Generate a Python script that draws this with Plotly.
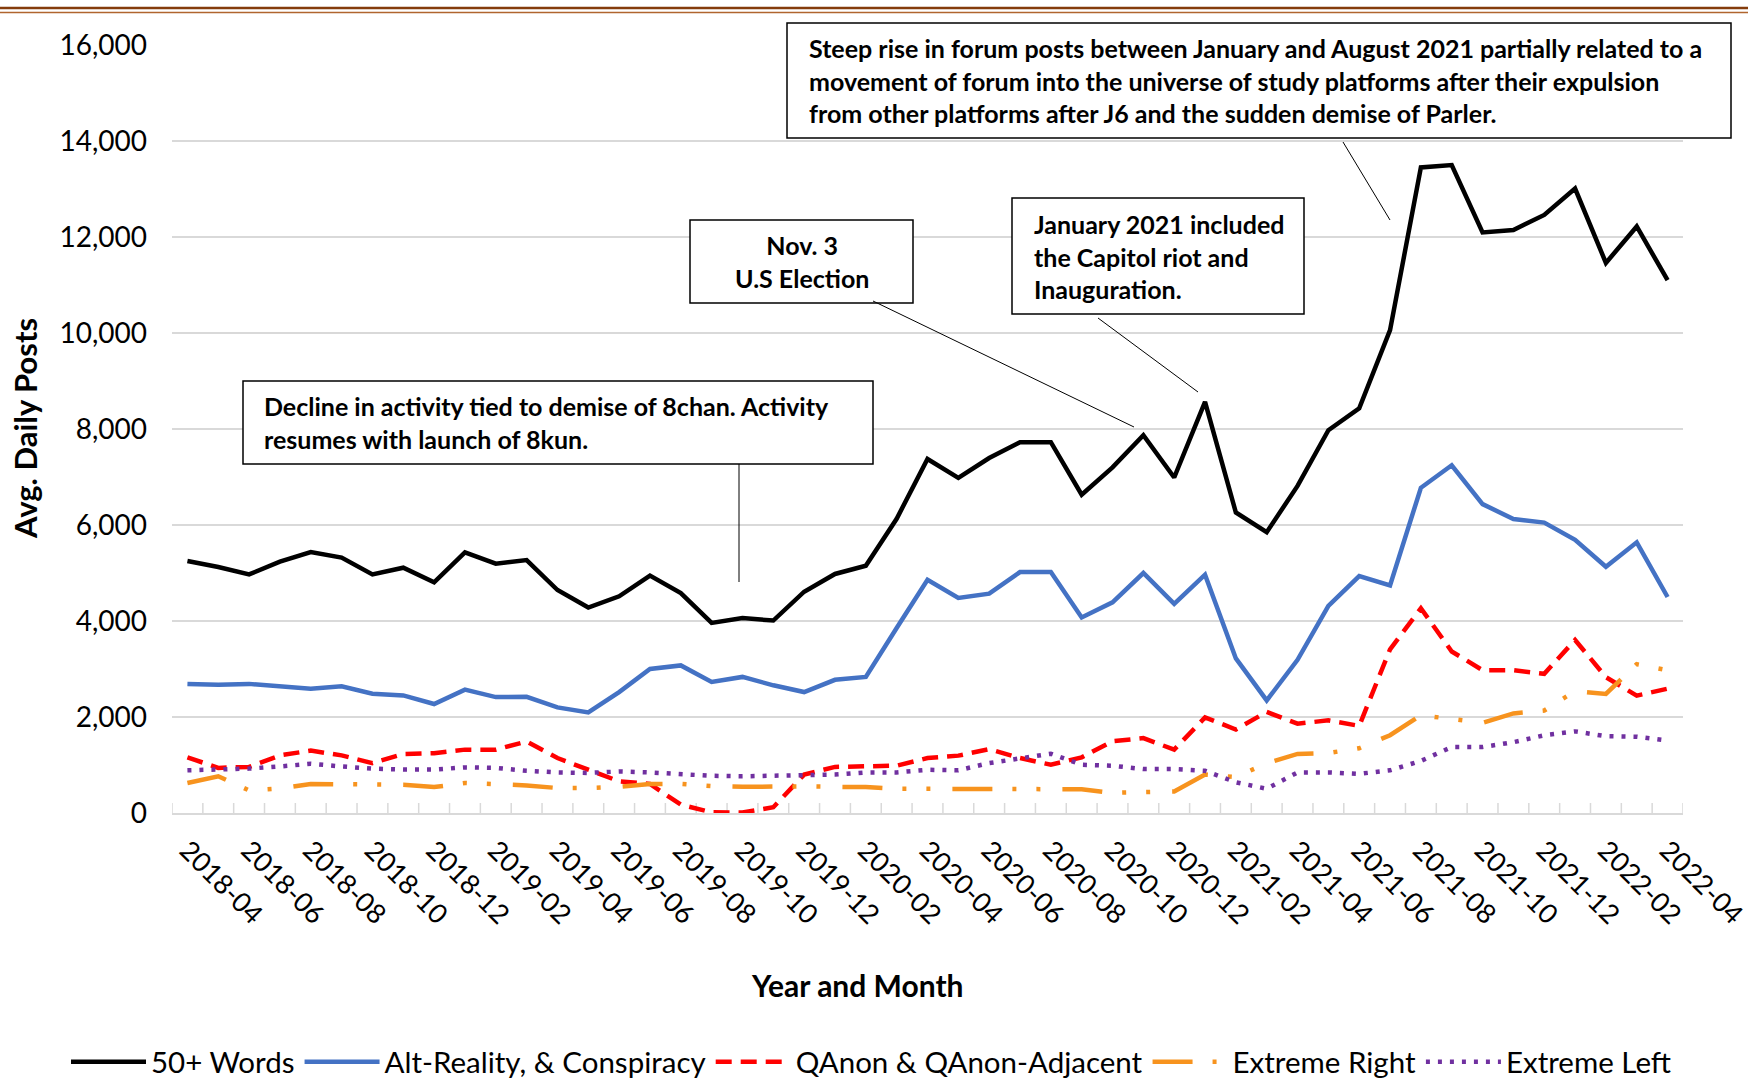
import plotly.graph_objects as go

# ---------------- data ----------------
months = ["2018-04", "2018-05", "2018-06", "2018-07", "2018-08", "2018-09", "2018-10", "2018-11", "2018-12",
          "2019-01", "2019-02", "2019-03", "2019-04", "2019-05", "2019-06", "2019-07", "2019-08", "2019-09",
          "2019-10", "2019-11", "2019-12", "2020-01", "2020-02", "2020-03", "2020-04", "2020-05", "2020-06",
          "2020-07", "2020-08", "2020-09", "2020-10", "2020-11", "2020-12", "2021-01", "2021-02", "2021-03",
          "2021-04", "2021-05", "2021-06", "2021-07", "2021-08", "2021-09", "2021-10", "2021-11", "2021-12",
          "2022-01", "2022-02", "2022-03", "2022-04"]

words50 = [5250, 5125, 4970, 5235, 5435, 5320, 4970, 5110, 4805, 5430, 5195, 5270, 4645, 4280, 4515, 4945,
           4580, 3960, 4060, 4010, 4610, 4980, 5150, 6130, 7375, 6980, 7395, 7725, 7725, 6630, 7200, 7870,
           6990, 8565, 6260, 5850, 6815, 7975, 8430, 10060, 13450, 13500, 12095, 12145, 12460, 13010, 11460,
           12220, 11100]

alt_reality = [2690, 2670, 2690, 2640, 2590, 2640, 2485, 2450, 2270, 2570, 2415, 2420, 2200, 2095, 2520, 3000,
               3075, 2730, 2835, 2660, 2520, 2775, 2835, 3855, 4860, 4480, 4570, 5020, 5020, 4075, 4390, 5000,
               4355, 4965, 3220, 2345, 3190, 4315, 4935, 4740, 6775, 7245, 6435, 6125, 6050, 5690, 5130,
               5640, 4500]

qanon = [1160, 940, 960, 1200, 1300, 1200, 1040, 1230, 1245, 1320, 1320, 1490, 1145, 905, 660, 605,
         175, 15, 10, 120, 800, 960, 970, 985, 1145, 1195, 1330, 1145, 1005, 1160, 1495, 1560,
         1320, 1990, 1740, 2105, 1860, 1930, 1815, 3410, 4265, 3365, 2975, 2975, 2900, 3605, 2830,
         2445, 2590]

extreme_right = [625, 765, 470, 510, 605, 605, 600, 590, 540, 625, 600, 575, 520, 520, 545, 605,
                 605, 560, 545, 555, 555, 545, 540, 505, 505, 490, 505, 505, 505, 495, 420, 440,
                 450, 800, 750, 1035, 1230, 1250, 1350, 1620, 2035, 1960, 1880, 2075, 2135, 2540, 2480,
                 3100, 2975]

extreme_left = [890, 905, 925, 970, 1025, 970, 925, 905, 905, 950, 940, 880, 845, 835, 865, 845,
                810, 775, 765, 780, 800, 800, 845, 845, 900, 890, 1040, 1145, 1235, 1005, 985, 915,
                915, 880, 640, 505, 845, 845, 815, 890, 1085, 1375, 1375, 1475, 1620, 1700, 1600,
                1590, 1510]

series_names = ["50+ Words", "Alt-Reality, & Conspiracy", "QAnon & QAnon-Adjacent", "Extreme Right", "Extreme Left"]

tick_labels = months[::2]

# ---------------- layout constants (pixels) ----------------
W, H = 1748, 1081
L, R, T, B = 172, 1683, 45, 813
FONT = "Lato, 'Open Sans', sans-serif"


def px(x):
    return (x - L) / (R - L)


def py(y):
    return (B - y) / (B - T)


xs = list(range(len(months)))

styles = [
    dict(color="#000000", width=4.5, dash="solid"),
    dict(color="#4472C4", width=4.5, dash="solid"),
    dict(color="#FF0000", width=4.5, dash="16px,9px"),
    dict(color="#F7931E", width=4.5, dash="40px,20px,4px,20px,4px,22px"),
    dict(color="#7030A0", width=4.5, dash="4px,8px"),
]
all_series = [words50, alt_reality, qanon, extreme_right, extreme_left]

fig = go.Figure()
for name, vals, st in zip(series_names, all_series, styles):
    fig.add_trace(go.Scatter(x=xs, y=vals, mode="lines", name=name, line=st,
                             hoverinfo="x+y+name"))

shapes = []
# tick marks across the x axis line at category boundaries
for i in range(len(months) + 1):
    b = i - 0.5
    shapes.append(dict(type="line", xref="x", yref="y", x0=b, x1=b, ysizemode="pixel", yanchor=0,
                       y0=-10, y1=10, line=dict(color="#D9D9D9", width=1.5), layer="below"))

# top decorative brown rule
shapes.append(dict(type="line", xref="paper", yref="paper", x0=px(0), x1=px(W), y0=py(8), y1=py(8),
                   line=dict(color="#843C0C", width=2.5)))
shapes.append(dict(type="line", xref="paper", yref="paper", x0=px(0), x1=px(W), y0=py(12.5), y1=py(12.5),
                   line=dict(color="#B0652E", width=1.5)))

# annotation boxes (pixel rects) and pointer lines
boxes = [
    (243, 381, 873, 464),
    (690, 220, 913, 303),
    (1012, 198, 1304, 314),
    (787, 23, 1731, 138),
]
for (x0, y0, x1, y1) in boxes:
    shapes.append(dict(type="rect", xref="paper", yref="paper", x0=px(x0), x1=px(x1), y0=py(y1), y1=py(y0),
                       line=dict(color="#000000", width=1.5), fillcolor="white", layer="above"))

pointers = [
    (739, 464, 739, 582),
    (873, 301, 1134, 427),
    (1098, 318, 1198, 392),
    (1343, 142, 1390, 220),
]
for (x0, y0, x1, y1) in pointers:
    shapes.append(dict(type="line", xref="paper", yref="paper", x0=px(x0), x1=px(x1), y0=py(y0), y1=py(y1),
                       line=dict(color="#000000", width=1)))

ann_font = dict(family=FONT, size=25, color="#000000")
annotations = [
    dict(text="<b>Decline in activity tied to demise of 8chan. Activity<br>resumes with launch of 8kun.</b>",
         x=px(262), y=py(422.5), xanchor="left", yanchor="middle", align="left"),
    dict(text="<b>Nov. 3<br>U.S Election</b>",
         x=px(801.5), y=py(261.5), xanchor="center", yanchor="middle", align="center"),
    dict(text="<b>January 2021 included<br>the Capitol riot and<br>Inauguration.</b>",
         x=px(1032), y=py(256), xanchor="left", yanchor="middle", align="left"),
    dict(text="<b>Steep rise in forum posts between January and August 2021 partially related to a<br>"
              "movement of forum into the universe of study platforms after their expulsion<br>"
              "from other platforms after J6 and the sudden demise of Parler.</b>",
         x=px(807), y=py(80.5), xanchor="left", yanchor="middle", align="left"),
    dict(text="<b>Avg. Daily Posts</b>", x=px(25), y=py(429), textangle=-90,
         xanchor="center", yanchor="middle", font=dict(family=FONT, size=31, color="#000000")),
    dict(text="<b>Year and Month</b>", x=px(857), y=py(985),
         xanchor="center", yanchor="middle", font=dict(family=FONT, size=30, color="#000000")),
]
for a in annotations:
    a.setdefault("font", ann_font)
    a.update(xref="paper", yref="paper", showarrow=False)

fig.update_layout(
    width=W, height=H,
    margin=dict(l=L, r=W - R, t=T, b=H - B, pad=0, autoexpand=False),
    paper_bgcolor="white", plot_bgcolor="white",
    font=dict(family=FONT, size=28, color="#000000"),
    showlegend=True,
    legend=dict(orientation="h", x=px(66), xanchor="left", y=py(1062), yanchor="middle",
                font=dict(family=FONT, size=29.5, color="#000000"), itemwidth=75, tracegroupgap=0,
                bgcolor="rgba(0,0,0,0)"),
    xaxis=dict(range=[-0.5, len(months) - 0.5], tickmode="array", tickvals=xs[::2], ticktext=tick_labels,
               tickangle=45, showgrid=False, zeroline=False, showline=True, linecolor="#D9D9D9", linewidth=1.5,
               ticks="", tickfont=dict(family=FONT, size=27, color="#000000"), ticklabelstandoff=9,
               ticklabeloverflow="allow", automargin=False),
    yaxis=dict(range=[0, 16000], dtick=2000, tickformat=",", showgrid=True, gridcolor="#D9D9D9", gridwidth=1.5,
               zeroline=False, showline=False, ticks="", tickfont=dict(family=FONT, size=28, color="#000000"),
               ticklabelstandoff=24, automargin=False),
    shapes=shapes,
    annotations=annotations,
)

fig.write_html("out.html", config={"displayModeBar": False},
               post_script="document.body.style.margin='0px';document.body.style.overflow='hidden';")
